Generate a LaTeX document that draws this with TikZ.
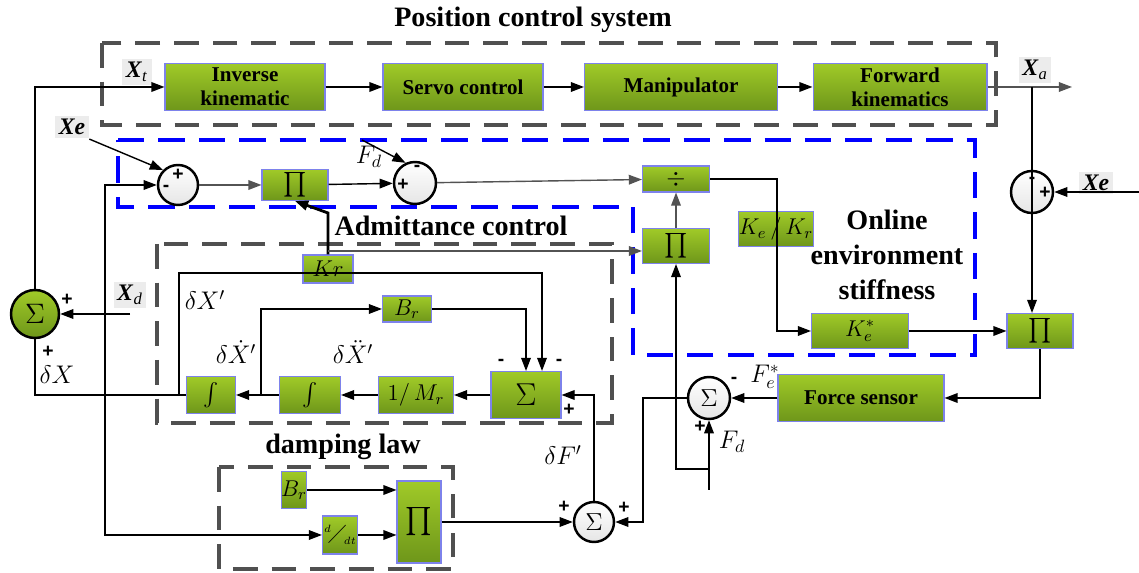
\documentclass[tikz,border=0pt]{standalone}
\usepackage{fix-cm}
\usepackage{fontspec}
\usepackage{amsmath}
\usepackage{amssymb}
\setmainfont{Liberation Serif}
\newfontfamily\signfont{Liberation Sans}
\usetikzlibrary{arrows.meta}
\definecolor{grntop}{RGB}{160,202,40}
\definecolor{grnbot}{RGB}{110,150,26}
\definecolor{blkedge}{RGB}{125,130,235}
\definecolor{framegray}{RGB}{80,80,80}
\definecolor{lblbg}{RGB}{236,236,236}

\begin{document}
\begin{tikzpicture}[x=0.02cm, y=-0.02cm, line width=0.8pt, >={Triangle[length=7.5pt,width=5.5pt]},
	blk/.style={draw=blkedge, line width=0.6pt, top color=grntop, bottom color=grnbot, inner sep=0pt, align=center, font=\fontsize{12}{13.6}\selectfont\bfseries},
	mblk/.style={blk, font=\fontsize{13}{15}\selectfont},
	sumc/.style={draw, circle, line width=1.4pt, top color=white, bottom color=gray!20, inner sep=0pt, minimum size=0.8cm, font=\fontsize{14}{14}\selectfont},
	sig/.style={inner sep=0pt, font=\signfont\bfseries\fontsize{11}{11}\selectfont},
	lbl/.style={inner sep=1pt, font=\fontsize{14.5}{16}\selectfont},
	tag/.style={fill=lblbg, inner sep=2pt, font=\fontsize{13.5}{15}\selectfont},
	ttl/.style={align=center, font=\fontsize{16}{20}\selectfont\bfseries},
	gframe/.style={draw=framegray, line width=2.2pt, dash pattern=on 14pt off 8pt},
	bframe/.style={draw=blue, line width=2pt, dash pattern=on 15pt off 8pt},
	gry/.style={draw=gray!65!black}]
	\useasboundingbox (0,0) rectangle (1139,573);

	% frames
	\draw[gframe] (102,43) rectangle (996,125);
	\draw[bframe] (118,140) -- (975,140) -- (975,355) -- (633,355) -- (633,207) -- (118,207) -- cycle;
	\draw[gframe] (157,244) rectangle (612,423);
	\draw[gframe] (219,467) rectangle (453,569);

	\node[ttl] (tpos) at (533,20) {Position control system};
	\node[ttl] (tadm) at (451,226) {Admittance control};
	\node[ttl] (tdmp) at (343,447) {damping law};
	\node[ttl] (tonl) at (887,255) {Online\\environment\\stiffness};

	% position control
	\node[blk, minimum width=3.2cm, minimum height=0.94cm] (ik) at (245,87) {Inverse\\kinematic};
	\node[blk, minimum width=3.2cm, minimum height=0.94cm] (sc) at (463,87) {Servo control};
	\node[blk, minimum width=3.86cm, minimum height=0.94cm] (mp) at (681,87) {Manipulator};
	\node[blk, minimum width=3.48cm, minimum height=0.94cm] (fk) at (900,87) {Forward\\kinematics};

	% stiffness estimation
	\node[sumc, minimum size=0.96cm, top color=grntop, bottom color=grnbot, font=\fontsize{16}{16}\selectfont] (sL) at (35,314) {$\Sigma$};
	\node[sumc] (s1) at (178,185) {};
	\node[blk, minimum width=1.32cm, minimum height=0.62cm, font=\fontsize{14}{14}\selectfont] (p1) at (295,185) {$\prod$};
	\node[sumc, minimum size=0.84cm] (s2) at (415,183) {};
	\node[blk, minimum width=1.34cm, minimum height=0.52cm, font=\fontsize{14}{14}\selectfont] (dv) at (676,179) {$\div$};
	\node[blk, minimum width=1.34cm, minimum height=0.7cm, font=\fontsize{14}{14}\selectfont] (p2) at (676,246) {$\prod$};
	\node[mblk, minimum width=1.32cm, minimum height=0.7cm] (kk) at (776,229) {$K_e\,/\,K_r$};
	\node[mblk, minimum width=1.94cm, minimum height=0.7cm] (ke) at (860,331) {$K_e^*$};
	\node[blk, minimum width=1.32cm, minimum height=0.7cm, font=\fontsize{14}{14}\selectfont] (p4) at (1040,331) {$\prod$};
	\node[sumc, minimum size=0.84cm] (s5) at (1032,192) {};
	\node[blk, minimum width=3.32cm, minimum height=0.94cm] (fs) at (861,398) {Force sensor};
	\node[sumc, minimum size=0.84cm] (s4) at (709,398) {$\Sigma$};

	% admittance
	\node[mblk, minimum width=1.0cm, minimum height=0.56cm] (kr) at (328,269) {$Kr$};
	\node[mblk, minimum width=0.98cm, minimum height=0.52cm] (br) at (407,309) {$B_r$};
	\node[blk, minimum width=1.4cm, minimum height=0.94cm, font=\fontsize{18}{18}\selectfont] (sb) at (526,395) {$\Sigma$};
	\node[mblk, minimum width=1.5cm, minimum height=0.74cm] (mr) at (416,395) {$1/\,M_r$};
	\node[mblk, minimum width=1.22cm, minimum height=0.74cm] (i2) at (310,395) {$\int$};
	\node[mblk, minimum width=0.98cm, minimum height=0.74cm] (i1) at (211,395) {$\int$};

	% damping
	\node[mblk, minimum width=0.5cm, minimum height=0.74cm] (br2) at (294,490) {$B_r$};
	\node[mblk, minimum width=0.7cm, minimum height=0.76cm, font=\fontsize{9}{9}\selectfont] (ddt) at (340,535) {\raisebox{4pt}{$\scriptstyle d$}\kern-1.5pt\scalebox{1.3}{$\diagup$}\kern-1.5pt\raisebox{-3pt}{$\scriptstyle dt$}};
	\node[blk, minimum width=0.88cm, minimum height=1.64cm, font=\fontsize{16}{16}\selectfont] (p3) at (419,522) {$\prod$};
	\node[sumc] (s3) at (594,522) {$\Sigma$};

	% labels
	\node[tag] (xt) at (137,72) {\textbf{\textit{X}}\textsubscript{\textit{t}}};
	\node[tag] (xa) at (1035,70) {\textbf{\textit{X}}\textsubscript{\textit{a}}};
	\node[tag] (xe1) at (72,127) {\textbf{\textit{Xe}}};
	\node[tag] (xe2) at (1096,183) {\textbf{\textit{Xe}}};
	\node[tag] (xd) at (130,295) {\textbf{\textit{X}}\textsubscript{\textit{d}}};
	\node[lbl] (fd1) at (369,157) {$F_d$};
	\node[lbl] (fd2) at (732,442) {$F_d$};
	\node[lbl] (fe) at (765,377) {$F_e^*$};
	\node[lbl] (dx) at (57,375) {$\delta X$};
	\node[lbl] (dx1) at (205,300) {$\delta X'$};
	\node[lbl] (dx2) at (236,352) {$\delta \dot{X}'$};
	\node[lbl] (dx3) at (353,352) {$\delta \ddot{X}'$};
	\node[lbl] (df) at (563,455) {$\delta F'$};

	% signs
	\node[sig] at (67,300) {+};
	\node[sig] at (48,352) {+};
	\node[sig] at (178,175) {+};
	\node[sig] at (166,188) {-};
	\node[sig] at (417,168) {-};
	\node[sig] at (403,185) {+};
	\node[sig] at (501,362) {-};
	\node[sig] at (559,362) {-};
	\node[sig] at (569,410) {+};
	\node[sig] at (564,507) {+};
	\node[sig] at (624,508) {+};
	\node[sig] at (734,380) {-};
	\node[sig] at (700,427) {+};
	\node[sig] at (1032,180) {-};
	\node[sig] at (1045,193) {+};

	\coordinate (xdin) at (130,314);
	\coordinate (fb) at (105,395);
	\coordinate (jc) at (179,395);
	\coordinate (kl) at (542,273);
	\coordinate (krup) at (328,213);
	\coordinate (krb) at (328,251);
	\coordinate (fdtop) at (362,140);
	\coordinate (kv) at (777,331);
	\coordinate (xaend) at (1072,87);
	\coordinate (ja) at (1032,87);
	\coordinate (xe2in) at (1139,192);
	\coordinate (fdin) at (709,490);
	\coordinate (jd) at (709,469);
	\coordinate (s3r) at (643,522);
	\coordinate (je) at (261,395);

	\draw[->] (sL.north) |- (ik.west);
	\draw[->] (ik) -- (sc);
	\draw[->] (sc) -- (mp);
	\draw[->] (mp) -- (fk);
	\draw[->, gry] (fk.east) -- (xaend);
	\draw (ja) -- (s5.north);
	\draw (s5.north) -- (s5.south);
	\draw[->] (s5.south) -- (s5.south |- p4.north);
	\draw[->] (xe2in) -- (s5.east);
	\draw[->] (xdin) -- (sL.east);
	\draw (i1.west) -| (sL.south);
	\draw[->] (fb) |- (s1.west);
	\draw[->] (fb) |- (ddt.west);
	\draw[->] (xe1.south east) -- (s1.135);
	\draw[->, gry] (s1) -- (p1);
	\draw[->] (p1) -- (s2);
	\draw[->] (fdtop) -- (s2.115);
	\draw[->, gry] (s2) -- (dv);
	\draw[->, gry] (p2) -- (dv);
	\draw[->] (dv.east) -| (kv) -- (ke.west);
	\draw[->] (ke) -- (p4);
	\draw[->] (p4.south) |- (fs.east);
	\draw[->] (fs) -- (s4);
	\draw[->] (fdin) -- (s4.south);
	\draw[->] (jd) -| (p2.south);
	\draw[->] (s4.west) -| (s3r) -- (s3.east);
	\draw[->] (s3.north) |- (sb.east);
	\draw[->] (jc) |- (kl) -- (kl |- sb.north);
	\draw[->, line width=1.6pt] (kr.north) -- (krup) -- (p1.south);
	\draw[->, gry] (krb) -- (krb -| p2.west);
	\draw[->] (sb) -- (mr);
	\draw[->] (mr) -- (i2);
	\draw[->] (i2) -- (i1);
	\draw[->] (je) |- (br.west);
	\draw[->] (br.east) -| (sb.north);
	\draw[->] (br2.east) -- (br2.east -| p3.west);
	\draw[->] (ddt.east) -- (ddt.east -| p3.west);
	\draw[->] (p3) -- (s3);
\end{tikzpicture}
\end{document}
